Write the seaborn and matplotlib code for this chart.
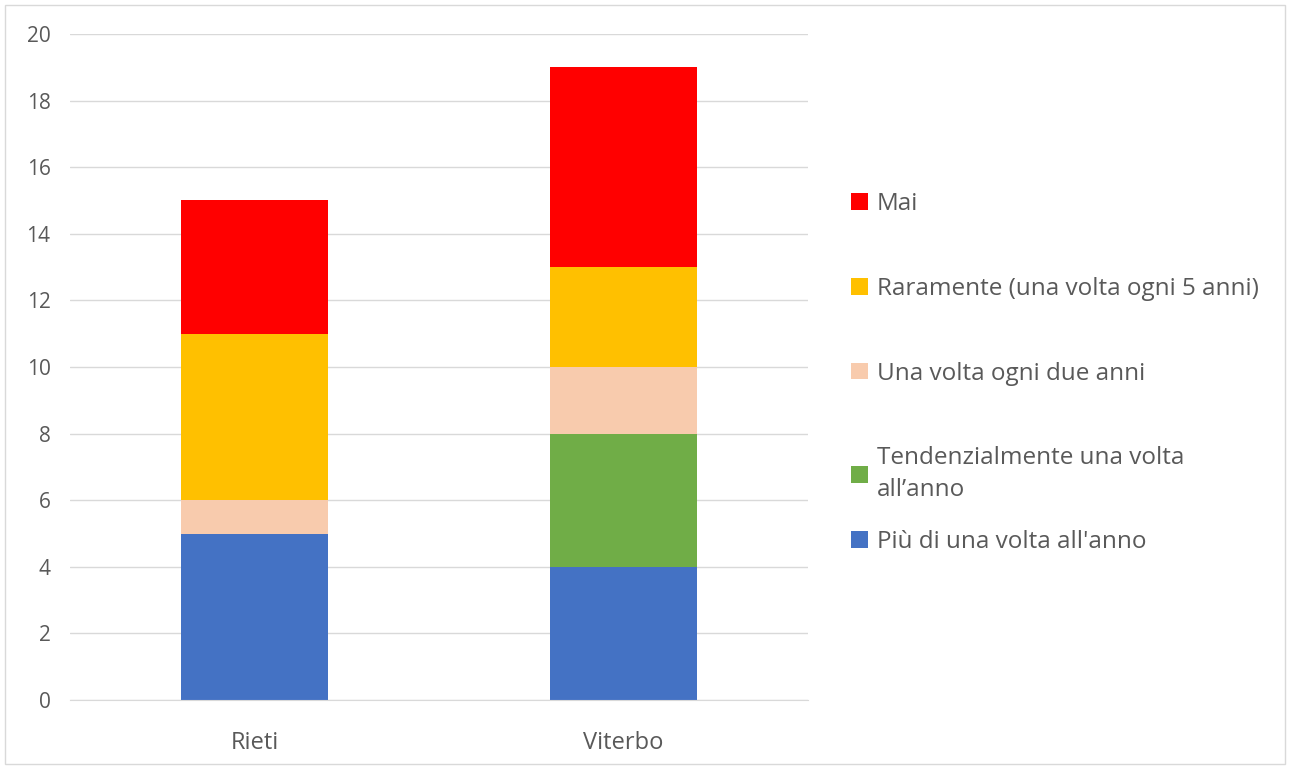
import seaborn as sns
import matplotlib.pyplot as plt
import pandas as pd
from matplotlib.patches import Patch, Rectangle

cities = ["Rieti", "Viterbo"]
categories = ["Mai", "Raramente (una volta ogni 5 anni)", "Una volta ogni due anni",
              "Tendenzialmente una volta\nall\u2019anno", "Più di una volta all'anno"]
mai = [4, 6]
raramente = [5, 3]
ogni_due = [1, 2]
tendenz = [0, 4]
piu = [5, 4]
colors = ["#FF0000", "#FFC000", "#F8CBAD", "#70AD47", "#4472C4"]

rows = []
for cat, vals in zip(categories, [mai, raramente, ogni_due, tendenz, piu]):
    for c, v in zip(cities, vals):
        rows.append({"city": c, "cat": cat, "n": v})
df = pd.DataFrame(rows)

sns.set_style("white")
plt.rcParams['font.family'] = ['Open Sans', 'DejaVu Sans']

fig = plt.figure(figsize=(12.89, 7.67), dpi=100)
ax = fig.add_axes([70/1289, 1-700/767, 738/1289, 666/767])
sns.histplot(data=df, x="city", hue="cat", weights="n", multiple="stack",
             discrete=True, shrink=0.4, hue_order=categories,
             palette=colors, alpha=1, linewidth=0, legend=False, ax=ax)

ax.set_xlim(-0.5, 1.5)
ax.set_ylim(0, 20)
ax.set_yticks(range(0, 21, 2))
ax.set_xticks([0, 1])
ax.set_xticklabels(cities, fontsize=17)
ax.set_yticklabels([str(v) for v in range(0, 21, 2)], fontsize=15)
ax.set_xlabel("")
ax.set_ylabel("")
ax.yaxis.grid(True, color="#D9D9D9", linewidth=1)
ax.set_axisbelow(True)
for s in ["left", "right", "top"]:
    ax.spines[s].set_visible(False)
ax.spines["bottom"].set_color("#D9D9D9")
ax.tick_params(axis="both", length=0, colors="#595959")
ax.tick_params(axis="x", pad=22)
ax.tick_params(axis="y", pad=14)

handles = [Patch(facecolor=c, edgecolor="none") for c in colors]
leg_kw = dict(loc="upper left", frameon=False, fontsize=17.5, handlelength=0.68,
              handleheight=0.68, handletextpad=0.38, labelspacing=2.5, borderpad=0,
              borderaxespad=0, labelcolor="#595959")
leg1 = fig.legend(handles[:4], categories[:4], bbox_to_anchor=(851/1289, 1-192/767), **leg_kw)
leg1.get_texts()[3].set_linespacing(1.45)
fig.legend(handles[4:], categories[4:], bbox_to_anchor=(851/1289, 1-530/767), **leg_kw)

fig.patches.append(Rectangle((5/1289, 3/767), 1280/1289, 759/767, transform=fig.transFigure,
                             fill=False, edgecolor="#D9D9D9", linewidth=1))

fig.savefig("out.png", dpi=100)
